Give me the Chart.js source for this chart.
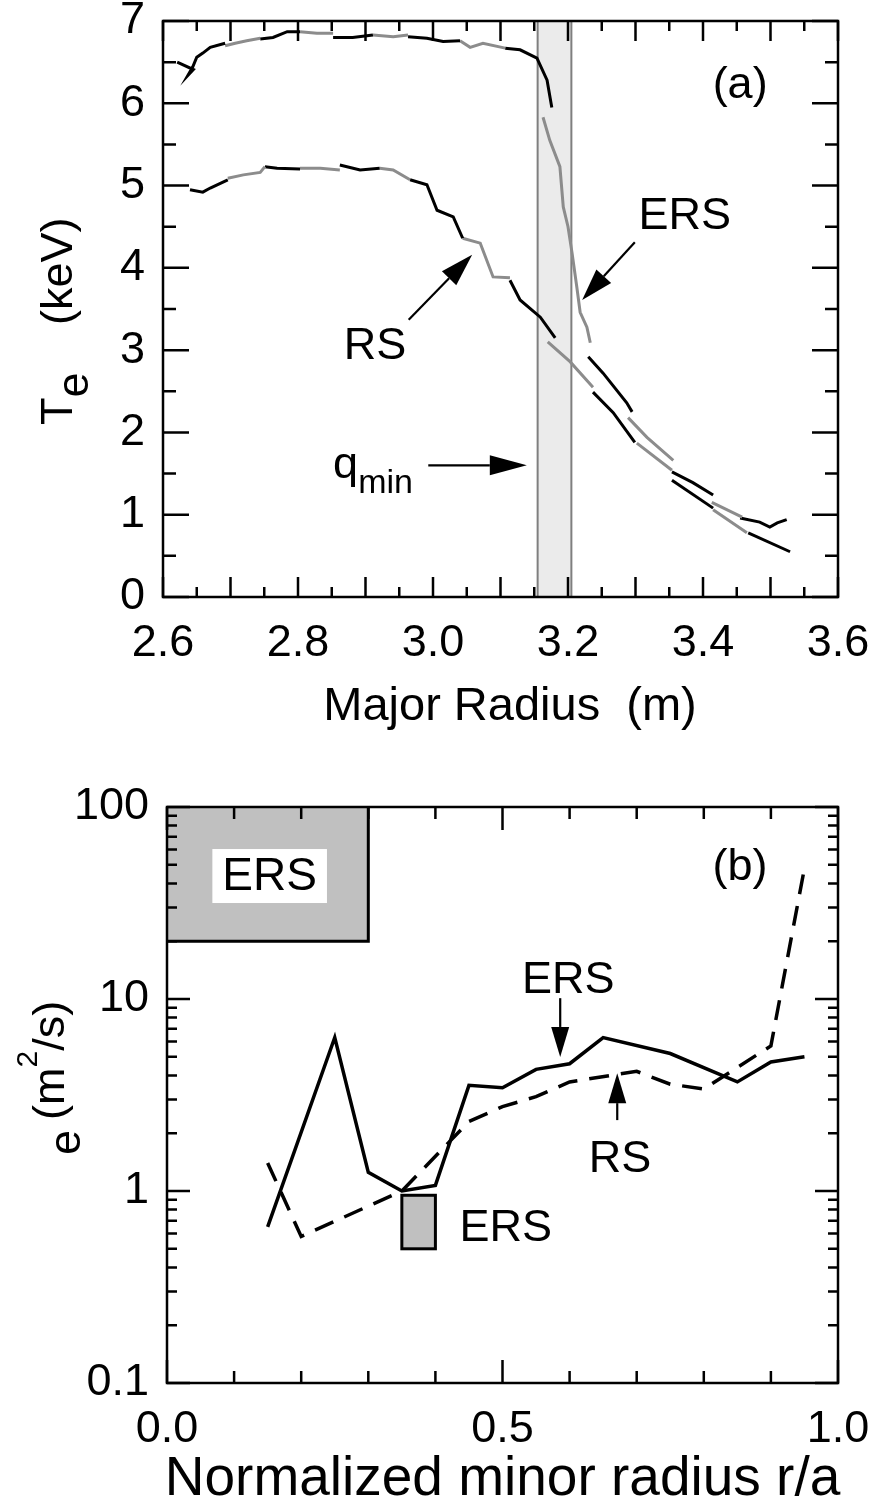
<!DOCTYPE html>
<html><head><meta charset="utf-8">
<script src="https://cdn.jsdelivr.net/npm/chart.js@4.4.1/dist/chart.umd.min.js"></script>
<style>
html,body{margin:0;padding:0;background:#fff;}
#wrap{position:relative;width:881px;height:1506px;background:#fff;}
canvas{position:absolute;left:0;}
#c1{top:0;width:881px;height:760px;}
#c2{top:760px;width:881px;height:746px;}
</style></head><body>
<div id="wrap"><canvas id="c1" width="881" height="760"></canvas><canvas id="c2" width="881" height="746"></canvas></div>
<script>
// ---------- Panel (a): Te profiles vs major radius ----------
// ERS (upper) profile, segments separated by null
const ersR = [2.621,2.645,2.637,2.644,2.650,2.659,2.670,2.692, null,
  2.692,2.707,2.724,2.744, null,
  2.744,2.763,2.784,2.803, null,
  2.803,2.828,2.852, null,
  2.852,2.881,2.911, null,
  2.911,2.941,2.963, null,
  2.963,2.991,3.015,3.040, null,
  3.040,3.055,3.074,3.107, null,
  3.107,3.129,3.154,3.169,3.176, null,
  3.163,3.173,3.188,3.193,3.200,3.206,3.213,3.218,3.228,3.233, null,
  3.230,3.252,3.287,3.295, null,
  3.289,3.317,3.356, null,
  3.354,3.385,3.415, null,
  3.413,3.458, null,
  3.455,3.484,3.499,3.510,3.524];
const ersTe = [6.50,6.41,6.34,6.44,6.56,6.61,6.68,6.73, null,
  6.70,6.73,6.76,6.79, null,
  6.78,6.80,6.87,6.87, null,
  6.87,6.85,6.85, null,
  6.80,6.80,6.83, null,
  6.83,6.81,6.83, null,
  6.81,6.79,6.75,6.76, null,
  6.76,6.68,6.73,6.67, null,
  6.67,6.65,6.55,6.28,5.95, null,
  5.83,5.55,5.23,4.74,4.50,4.18,3.77,3.46,3.28,3.09, null,
  2.92,2.72,2.36,2.25, null,
  2.18,1.94,1.66, null,
  1.52,1.39,1.24, null,
  1.15,0.97, null,
  0.96,0.91,0.85,0.90,0.94];
const ersShade = ['k','g','k','g','k','g','k','g','k','g','k','g','k','g','k'];

// RS (lower) profile
const rsR = [2.640,2.659,2.670,2.696, null,
  2.696,2.719,2.744,2.751, null,
  2.751,2.769,2.803, null,
  2.803,2.833,2.862, null,
  2.862,2.892,2.921, null,
  2.921,2.941,2.966, null,
  2.966,2.991,3.006,3.030,3.044, null,
  3.044,3.070,3.089,3.114, null,
  3.114,3.129,3.159,3.181, null,
  3.170,3.203,3.237, null,
  3.237,3.267,3.299, null,
  3.302,3.354, null,
  3.354,3.415, null,
  3.415,3.465, null,
  3.467,3.529];
const rsTe = [4.95,4.92,4.97,5.07, null,
  5.09,5.13,5.16,5.23, null,
  5.23,5.21,5.20, null,
  5.21,5.21,5.19, null,
  5.25,5.19,5.21, null,
  5.21,5.19,5.07, null,
  5.07,5.01,4.70,4.62,4.36, null,
  4.36,4.30,3.89,3.88, null,
  3.85,3.61,3.40,3.15, null,
  3.10,2.86,2.55, null,
  2.49,2.24,1.88, null,
  1.87,1.54, null,
  1.42,1.08, null,
  1.06,0.78, null,
  0.78,0.55];
const rsShade = ['k','g','k','g','k','g','k','g','k','g','k','g','k','g','k'];

const qminBand = [3.155, 3.205];          // shaded q_min region (m)
const topXLabels = [2.6, 2.8, 3.0, 3.2, 3.4, 3.6];
const topYLabels = [0, 1, 2, 3, 4, 5, 6, 7];
const topXMajor = [2.6,2.7,2.8,2.9,3.0,3.1,3.2,3.3,3.4,3.5,3.6];
const topXMinor = [2.65,2.75,2.85,2.95,3.05,3.15,3.25,3.35,3.45,3.55];
const topYMajor = [0,1,2,3,4,5,6,7];
const topYMinor = [0.5,1.5,2.5,3.5,4.5,5.5,6.5];

// ---------- Panel (b): chi_e vs normalized minor radius ----------
const ersRho = [0.15,0.25,0.30,0.35,0.40,0.45,0.50,0.55,0.60,0.65,0.75,0.85,0.90,0.95];
const ersChi = [0.65,6.3,1.25,1.0,1.07,3.55,3.45,4.3,4.6,6.3,5.2,3.7,4.7,5.0];
const rsRho  = [0.15,0.20,0.35,0.45,0.50,0.55,0.60,0.70,0.75,0.80,0.90,0.95];
const rsChi  = [1.4,0.58,1.0,2.3,2.75,3.1,3.7,4.2,3.6,3.4,5.7,48];
const bigBoxX = [0, 0.3], bigBoxY = [20, 100];
const smallBoxX = [0.35, 0.40], smallBoxY = [0.5, 0.95];
const botXLabels = [0, 0.5, 1.0];
const botYLabels = [0.1, 1, 10, 100];
const botXMajor = [0, 0.5, 1.0];
const botXMinor = [0.1,0.2,0.3,0.4,0.6,0.7,0.8,0.9];
const botYMajor = [0.1, 1, 10, 100];
const botYMinor = [0.2,0.3,0.4,0.5,0.6,0.7,0.8,0.9,2,3,4,5,6,7,8,9,20,30,40,50,60,70,80,90];

// ---------- helpers ----------
const FONT = "'Liberation Sans', Arial, Helvetica, sans-serif";
const BLACK = '#000000', GREY = '#8c8c8c';
function f(size){ return size + 'px ' + FONT; }

function splitSegments(xs, ys){
  const segs = []; let cur = [];
  xs.forEach((x, i) => {
    if (x === null) { if (cur.length) segs.push(cur); cur = []; }
    else cur.push({x: x, y: ys[i]});
  });
  if (cur.length) segs.push(cur);
  return segs;
}
function arrow(ctx, x1, y1, x2, y2, headLen, headHalf){
  const a = Math.atan2(y2 - y1, x2 - x1);
  const bx = x2 - headLen * Math.cos(a), by = y2 - headLen * Math.sin(a);
  ctx.save();
  ctx.strokeStyle = BLACK; ctx.fillStyle = BLACK; ctx.lineWidth = 2.2;
  ctx.beginPath(); ctx.moveTo(x1, y1); ctx.lineTo(bx, by); ctx.stroke();
  ctx.beginPath(); ctx.moveTo(x2, y2);
  ctx.lineTo(bx + headHalf * Math.sin(a), by - headHalf * Math.cos(a));
  ctx.lineTo(bx - headHalf * Math.sin(a), by + headHalf * Math.cos(a));
  ctx.closePath(); ctx.fill();
  ctx.restore();
}
function frameTicks(chart, spec){
  const ctx = chart.ctx, a = chart.chartArea, x = chart.scales.x, y = chart.scales.y;
  ctx.save(); ctx.strokeStyle = BLACK; ctx.lineWidth = 2.5; ctx.lineCap = 'butt';
  ctx.beginPath();
  spec.x.forEach(([vals, len]) => vals.forEach(v => {
    const p = x.getPixelForValue(v);
    ctx.moveTo(p, a.bottom); ctx.lineTo(p, a.bottom - len);
    ctx.moveTo(p, a.top); ctx.lineTo(p, a.top + len);
  }));
  spec.y.forEach(([vals, len]) => vals.forEach(v => {
    const p = y.getPixelForValue(v);
    ctx.moveTo(a.left, p); ctx.lineTo(a.left + len, p);
    ctx.moveTo(a.right, p); ctx.lineTo(a.right - len, p);
  }));
  ctx.stroke();
  ctx.strokeRect(a.left, a.top, a.right - a.left, a.bottom - a.top);
  ctx.restore();
}
function text(ctx, s, x, y, size, align, base){
  ctx.font = f(size); ctx.fillStyle = BLACK;
  ctx.textAlign = align || 'center'; ctx.textBaseline = base || 'middle';
  ctx.fillText(s, x, y);
}

// ---------- Chart (a) ----------
const datasetsA = [];
[[ersR, ersTe, ersShade], [rsR, rsTe, rsShade]].forEach(([xs, ys, sh]) => {
  splitSegments(xs, ys).forEach((seg, i) => {
    datasetsA.push({data: seg, showLine: true, borderColor: sh[i] === 'k' ? BLACK : GREY,
      borderWidth: 3, pointRadius: 0, fill: false, tension: 0, borderCapStyle: 'butt', borderJoinStyle: 'miter'});
  });
});

const pluginA = {
  id: 'decorA',
  beforeDatasetsDraw(chart){
    const {ctx, chartArea: a, scales: {x}} = chart;
    const l = x.getPixelForValue(qminBand[0]), r = x.getPixelForValue(qminBand[1]);
    ctx.save();
    ctx.fillStyle = '#ebebeb'; ctx.fillRect(l, a.top, r - l, a.bottom - a.top);
    ctx.strokeStyle = '#7f7f7f'; ctx.lineWidth = 2; ctx.strokeRect(l, a.top, r - l, a.bottom - a.top);
    ctx.restore();
  },
  afterDatasetsDraw(chart){
    frameTicks(chart, {x: [[topXMajor, 20], [topXMinor, 10]], y: [[topYMajor, 26], [topYMinor, 13]]});
    const ctx = chart.ctx, X = v => chart.scales.x.getPixelForValue(v), Y = v => chart.scales.y.getPixelForValue(v);
    text(ctx, '(a)', X(3.455), Y(6.22), 45);
    text(ctx, 'ERS', X(3.373), Y(4.62), 45);
    arrow(ctx, X(3.299), Y(4.31), X(3.221), Y(3.61), 32, 10);
    text(ctx, 'RS', X(2.914), Y(3.04), 45);
    arrow(ctx, X(2.964), Y(3.37), X(3.058), Y(4.16), 33, 10);
    // q_min label
    ctx.font = f(45); const qx = X(2.852), qy = Y(1.45);
    text(ctx, 'q', qx, qy, 45, 'left', 'alphabetic');
    ctx.font = f(45); const qw = ctx.measureText('q').width;
    text(ctx, 'min', qx + qw, qy + 15, 34, 'left', 'alphabetic');
    arrow(ctx, X(2.993), Y(1.60), X(3.139), Y(1.60), 37, 10);
  },
  afterDraw(chart){
    const ctx = chart.ctx;
    // x title
    text(ctx, 'Major Radius  (m)', 510, 707, 47);
    // y title  T_e  (keV)
    ctx.save(); ctx.translate(72, 425); ctx.rotate(-Math.PI / 2);
    ctx.font = f(45); const tw = ctx.measureText('T').width;
    text(ctx, 'T', 0, 0, 45, 'left', 'alphabetic');
    text(ctx, 'e', tw, 16, 45, 'left', 'alphabetic');
    text(ctx, '(keV)', 100, 0, 45, 'left', 'alphabetic');
    ctx.restore();
  }
};

new Chart(document.getElementById('c1'), {
  type: 'scatter',
  data: {datasets: datasetsA},
  options: {
    responsive: false, animation: false, events: [],
    layout: {padding: {left: 0, right: 43, top: 21, bottom: 0}},
    plugins: {legend: {display: false}, tooltip: {enabled: false}},
    scales: {
      x: {type: 'linear', position: 'bottom', min: 2.6, max: 3.6,
        grid: {display: false, drawTicks: false}, border: {display: false},
        afterBuildTicks: s => { s.ticks = topXLabels.map(v => ({value: v})); },
        ticks: {autoSkip: false, maxRotation: 0, color: BLACK, font: {family: FONT, size: 45}, padding: 20,
          callback: v => Number(v).toFixed(1)},
        afterFit: s => { s.height = 163; s.paddingLeft = 0; s.paddingRight = 0; }},
      y: {type: 'linear', min: 0, max: 7,
        grid: {display: false, drawTicks: false}, border: {display: false},
        afterBuildTicks: s => { s.ticks = topYLabels.map(v => ({value: v})); },
        ticks: {autoSkip: false, color: BLACK, font: {family: FONT, size: 45}, padding: 18,
          callback: v => String(v)},
        afterFit: s => { s.width = 163; s.paddingTop = 0; s.paddingBottom = 0; }}
    }
  },
  plugins: [pluginA]
});

// ---------- Chart (b) ----------
const pluginB = {
  id: 'decorB',
  beforeDatasetsDraw(chart){
    const ctx = chart.ctx, X = v => chart.scales.x.getPixelForValue(v), Y = v => chart.scales.y.getPixelForValue(v);
    ctx.save();
    // big ERS box
    const l = X(bigBoxX[0]), r = X(bigBoxX[1]), t = Y(bigBoxY[1]), b = Y(bigBoxY[0]);
    ctx.fillStyle = '#c0c0c0'; ctx.fillRect(l, t, r - l, b - t);
    ctx.strokeStyle = BLACK; ctx.lineWidth = 3;
    ctx.beginPath(); ctx.moveTo(r, t); ctx.lineTo(r, b); ctx.lineTo(l, b); ctx.stroke();
    ctx.font = f(46); const w = ctx.measureText('ERS').width;
    const cx = X(0.153), cy = Y(43.7);
    ctx.fillStyle = '#ffffff'; ctx.fillRect(cx - w / 2 - 10, cy - 27, w + 20, 54);
    text(ctx, 'ERS', cx, cy + 1, 46);
    // small ERS box
    const l2 = X(smallBoxX[0]), r2 = X(smallBoxX[1]), t2 = Y(smallBoxY[1]), b2 = Y(smallBoxY[0]);
    ctx.fillStyle = '#c0c0c0'; ctx.fillRect(l2, t2, r2 - l2, b2 - t2);
    ctx.strokeStyle = BLACK; ctx.lineWidth = 3; ctx.strokeRect(l2, t2, r2 - l2, b2 - t2);
    ctx.restore();
  },
  afterDatasetsDraw(chart){
    frameTicks(chart, {x: [[botXMajor, 23], [botXMinor, 12]], y: [[botYMajor, 23], [botYMinor, 10]]});
    const ctx = chart.ctx, X = v => chart.scales.x.getPixelForValue(v), Y = v => chart.scales.y.getPixelForValue(v);
    text(ctx, '(b)', X(0.854), Y(48.1), 45);
    text(ctx, 'ERS', X(0.598), Y(12.4), 45);
    arrow(ctx, X(0.586), Y(10.1), X(0.586), Y(4.99), 30, 9);
    text(ctx, 'RS', X(0.675), Y(1.45), 45);
    arrow(ctx, X(0.671), Y(2.34), X(0.671), Y(4.11), 30, 9);
    text(ctx, 'ERS', X(0.505), Y(0.64), 45);
  },
  afterDraw(chart){
    const ctx = chart.ctx;
    text(ctx, 'Normalized minor radius r/a', (chart.chartArea.left + chart.chartArea.right) / 2, 720, 55);
    // y title  e (m^2/s)
    ctx.save(); ctx.translate(64, 395); ctx.rotate(-Math.PI / 2);
    text(ctx, 'e', 0, 16, 45, 'left', 'alphabetic');
    ctx.font = f(45); const w1 = ctx.measureText('(m').width;
    text(ctx, '(m', 35, 0, 45, 'left', 'alphabetic');
    ctx.font = f(30); const w2 = ctx.measureText('2').width;
    text(ctx, '2', 35 + w1, -27, 30, 'left', 'alphabetic');
    text(ctx, '/s)', 35 + w1 + w2, 0, 45, 'left', 'alphabetic');
    ctx.restore();
  }
};

new Chart(document.getElementById('c2'), {
  type: 'scatter',
  data: {datasets: [
    {data: ersRho.map((x, i) => ({x: x, y: ersChi[i]})), showLine: true, borderColor: BLACK, borderWidth: 3.5,
      pointRadius: 0, fill: false, tension: 0, borderJoinStyle: 'miter'},
    {data: rsRho.map((x, i) => ({x: x, y: rsChi[i]})), showLine: true, borderColor: BLACK, borderWidth: 3.5,
      borderDash: [20, 12], pointRadius: 0, fill: false, tension: 0, borderJoinStyle: 'miter'}
  ]},
  options: {
    responsive: false, animation: false, events: [],
    layout: {padding: {left: 0, right: 43, top: 47, bottom: 0}},
    plugins: {legend: {display: false}, tooltip: {enabled: false}},
    scales: {
      x: {type: 'linear', position: 'bottom', min: 0, max: 1,
        grid: {display: false, drawTicks: false}, border: {display: false},
        afterBuildTicks: s => { s.ticks = botXLabels.map(v => ({value: v})); },
        ticks: {autoSkip: false, maxRotation: 0, color: BLACK, font: {family: FONT, size: 45}, padding: 20,
          callback: v => Number(v).toFixed(1)},
        afterFit: s => { s.height = 123; s.paddingLeft = 0; s.paddingRight = 0; }},
      y: {type: 'logarithmic', min: 0.1, max: 100,
        grid: {display: false, drawTicks: false}, border: {display: false},
        afterBuildTicks: s => { s.ticks = botYLabels.map(v => ({value: v})); },
        ticks: {autoSkip: false, color: BLACK, font: {family: FONT, size: 45}, padding: 18,
          callback: v => String(v)},
        afterFit: s => { s.width = 167; s.paddingTop = 0; s.paddingBottom = 0; }}
    }
  },
  plugins: [pluginB]
});
</script>
</body></html>
